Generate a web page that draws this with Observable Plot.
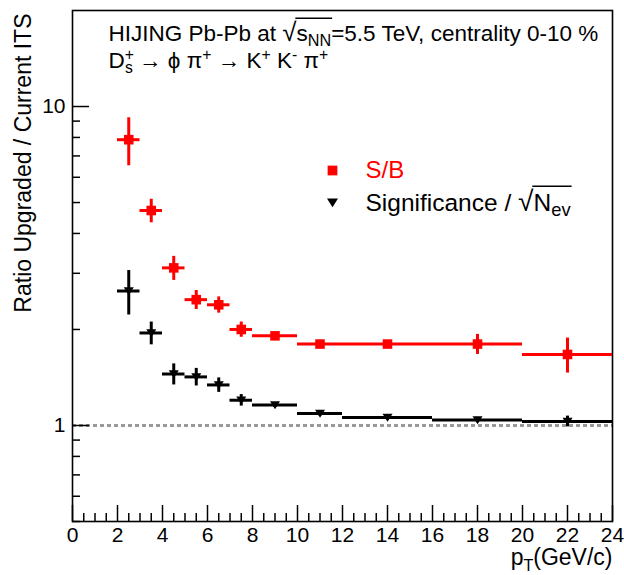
<!DOCTYPE html>
<html><head><meta charset="utf-8">
<script src="https://cdn.jsdelivr.net/npm/d3@7"></script>
<script src="https://cdn.jsdelivr.net/npm/@observablehq/plot@0.6"></script>
<style>html,body{margin:0;padding:0;background:#fff}</style>
</head><body><div id="chart"></div>
<script>
// ---- data ----
const binLo    = [2, 3, 4, 5, 6, 7, 8, 10, 12, 16, 20];
const binHi    = [3, 4, 5, 6, 7, 8, 10, 12, 16, 20, 24];
const ptCenter = [2.5, 3.5, 4.5, 5.5, 6.5, 7.5, 9, 11, 14, 18, 22];
const sbRatio  = [7.87, 4.72, 3.12, 2.48, 2.39, 2.00, 1.91, 1.80, 1.80, 1.80, 1.67];
const sbErr    = [1.35, 0.40, 0.27, 0.17, 0.14, 0.11, 0.05, 0.04, 0.04, 0.13, 0.21];
const sigRatio = [2.64, 1.95, 1.45, 1.42, 1.34, 1.20, 1.16, 1.09, 1.06, 1.04, 1.03];
const sigErr   = [0.42, 0.16, 0.11, 0.09, 0.07, 0.05, 0.02, 0.02, 0.02, 0.02, 0.04];
const xTickLabels = [0, 2, 4, 6, 8, 10, 12, 14, 16, 18, 20, 22, 24];
const xMinorTicks = [0.5, 1, 1.5, 2.5, 3, 3.5, 4.5, 5, 5.5, 6.5, 7, 7.5, 8.5, 9, 9.5, 10.5, 11, 11.5, 12.5, 13, 13.5, 14.5, 15, 15.5, 16.5, 17, 17.5, 18.5, 19, 19.5, 20.5, 21, 21.5, 22.5, 23, 23.5];
const yTickLabels = [1, 10];
const yMinorTicks = [0.5, 0.6, 0.7, 0.8, 0.9, 2, 3, 4, 5, 6, 7, 8, 9];
const referenceLine = [1];

const rows = ptCenter.map((x, i) => ({
  x, lo: binLo[i], hi: binHi[i],
  sb: sbRatio[i], sbE: sbErr[i], sig: sigRatio[i], sigE: sigErr[i]
}));

// ---- layout ----
const W = 624, H = 575, mL = 72, mR = 12, mT = 10, mB = 54;
const fw = W - mL - mR, fh = H - mT - mB;
const FONT = "'Liberation Sans', Arial, Helvetica, sans-serif";
const RED = "#ff0000";

const triDown = {draw(ctx, size) {
  const r = Math.sqrt(size / Math.PI);
  ctx.moveTo(-r, -0.75 * r); ctx.lineTo(r, -0.75 * r); ctx.lineTo(0, 0.85 * r); ctx.closePath();
}};

const one = ["·"];

const chart = Plot.plot({
  width: W, height: H,
  marginLeft: mL, marginRight: mR, marginTop: mT, marginBottom: mB,
  style: {fontFamily: FONT, fontSize: "21px", background: "white", color: "black"},
  x: {domain: [0, 24], axis: null},
  y: {type: "log", domain: [0.5, 20], axis: null},
  marks: [
    Plot.ruleY(referenceLine, {y: d => d, stroke: "#9a9a9a", strokeWidth: 2.8, strokeDasharray: "4,3"}),
    // inward ticks
    Plot.tickX(xMinorTicks, {x: d => d, insetTop: fh - 8, stroke: "black", strokeWidth: 1.5}),
    Plot.tickX(xTickLabels, {x: d => d, insetTop: fh - 16, stroke: "black", strokeWidth: 1.5}),
    Plot.tickY(yMinorTicks, {y: d => d, insetRight: fw - 8, stroke: "black", strokeWidth: 1.5}),
    Plot.tickY(yTickLabels, {y: d => d, insetRight: fw - 17, stroke: "black", strokeWidth: 1.5}),
    Plot.axisX(xTickLabels, {anchor: "bottom", tickSize: 0, tickPadding: 6, fontSize: 21, tickFormat: d => String(d), label: null}),
    Plot.axisY(yTickLabels, {anchor: "left", tickSize: 0, tickPadding: 7, fontSize: 21, tickFormat: d => String(d), label: null}),
    Plot.frame({stroke: "black", strokeWidth: 1.6}),
    // significance (black)
    Plot.ruleY(rows, {y: "sig", x1: "lo", x2: "hi", stroke: "black", strokeWidth: 3}),
    Plot.ruleX(rows, {x: "x", y1: d => d.sig - d.sigE, y2: d => d.sig + d.sigE, stroke: "black", strokeWidth: 3}),
    Plot.dot(rows, {x: "x", y: "sig", symbol: triDown, r: 5, fill: "black", stroke: null}),
    // S/B (red)
    Plot.ruleY(rows, {y: "sb", x1: "lo", x2: "hi", stroke: RED, strokeWidth: 3}),
    Plot.ruleX(rows, {x: "x", y1: d => d.sb - d.sbE, y2: d => d.sb + d.sbE, stroke: RED, strokeWidth: 3}),
    Plot.dot(rows, {x: "x", y: "sb", symbol: "square", r: 5.4, fill: RED, stroke: null}),
    // legend
    Plot.dot(one, {frameAnchor: "top-left", dx: 260, dy: 160, symbol: "square", r: 5.5, fill: RED, stroke: null}),
    Plot.dot(one, {frameAnchor: "top-left", dx: 260, dy: 192, symbol: triDown, r: 5.5, fill: "black", stroke: null}),
    Plot.text(one, {text: d => "S/B", frameAnchor: "top-left", dx: 293, dy: 167, textAnchor: "start", lineAnchor: "bottom", fontSize: 24, fill: RED}),
    Plot.text(one, {text: d => "Significance", frameAnchor: "top-left", dx: 293, dy: 200, textAnchor: "start", lineAnchor: "bottom", fontSize: 24.5, fill: "black", className: "legsig"}),
    // header
    Plot.text(one, {text: d => "HIJING", frameAnchor: "top-left", dx: 36, dy: 30, textAnchor: "start", lineAnchor: "bottom", fontSize: 22.5, className: "hdr1"}),
    Plot.text(one, {text: d => "D", frameAnchor: "top-left", dx: 36, dy: 57, textAnchor: "start", lineAnchor: "bottom", fontSize: 22.5, className: "hdr2"}),
    // axis titles
    Plot.text(one, {text: d => "Ratio Upgraded / Current ITS", frameAnchor: "top-left", dx: -42, dy: 3, rotate: -90, textAnchor: "end", lineAnchor: "bottom", fontSize: 23}),
    Plot.text(one, {text: d => "p", frameAnchor: "bottom-right", dx: 0, dy: 43, textAnchor: "end", lineAnchor: "bottom", fontSize: 23, className: "xtitle"})
  ]
});

const setHTML = (cls, html) => { const t = chart.querySelector(`.${cls} text`); if (t) t.innerHTML = html; return t; };
const h1 = setHTML("hdr1", `HIJING Pb-Pb at <tspan font-size="115%">√</tspan>s<tspan font-size="72%" dy="5">NN</tspan><tspan dy="-5">=5.5 TeV, centrality 0-10 %</tspan>`);
setHTML("hdr2", `D<tspan font-size="70%" dy="-8">+</tspan><tspan font-size="70%" dx="-9" dy="13">s</tspan><tspan dy="-5"> → ϕ π</tspan><tspan font-size="70%" dy="-8">+</tspan><tspan dy="8"> → K</tspan><tspan font-size="70%" dy="-8">+</tspan><tspan dy="8"> K</tspan><tspan font-size="70%" dy="-8">-</tspan><tspan dy="8"> π</tspan><tspan font-size="70%" dy="-8">+</tspan>`);
const lg = setHTML("legsig", `Significance / <tspan font-size="115%">√</tspan>N<tspan font-size="75%" dy="5">ev</tspan>`);
setHTML("xtitle", `p<tspan font-size="70%" dy="6">T</tspan><tspan dy="-6">(GeV/c)</tspan>`);

document.getElementById("chart").appendChild(chart);

// radical overbar: a text decoration spanning the radicand
function radicalBar(t, nChars, color) {
  if (!t) return;
  const s = t.textContent, i = s.indexOf("√");
  if (i < 0) return;
  const fs = parseFloat(getComputedStyle(t).fontSize) * 1.15;
  const r = t.getExtentOfChar(i);
  const base = t.getStartPositionOfChar(i).y;
  const e = t.getExtentOfChar(i + nChars);
  const line = document.createElementNS("http://www.w3.org/2000/svg", "line");
  const y = base - 0.86 * fs;
  line.setAttribute("x1", r.x + r.width - 1.2);
  line.setAttribute("x2", e.x + e.width + 1);
  line.setAttribute("y1", y); line.setAttribute("y2", y);
  line.setAttribute("stroke", color); line.setAttribute("stroke-width", 1.4);
  const tr = t.getAttribute("transform"); if (tr) line.setAttribute("transform", tr);
  t.parentNode.appendChild(line);
}
radicalBar(h1, 3, "black");
radicalBar(lg, 3, "black");
</script>
</body></html>
